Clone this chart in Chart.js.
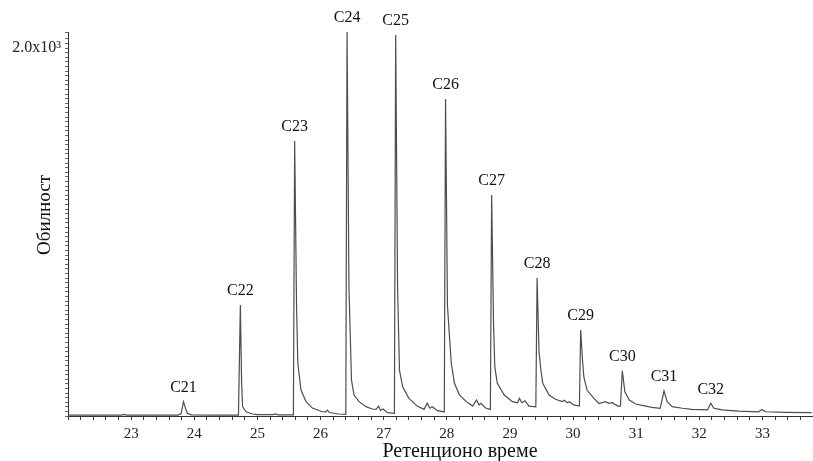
<!DOCTYPE html>
<html>
<head>
<meta charset="utf-8">
<script src="https://cdn.jsdelivr.net/npm/chart.js@4.4.1/dist/chart.umd.min.js"></script>
<style>
    body { margin: 0; background: #fff; }
    #wrap { width: 813px; height: 461px; }
</style>
</head>
<body>
<div id="wrap"><canvas id="chromatogram" width="813" height="461"></canvas></div>
<script>
// retention time (min) and abundance
let retentionTime = [
    22.00, 22.85, 22.89, 22.93, 23.74, 23.79, 23.83, 23.86, 23.89, 23.95,
    24.30, 24.70, 24.73, 24.75, 24.765, 24.82, 24.92, 25.00, 25.25, 25.28,
    25.33, 25.57, 25.59, 25.62, 25.64, 25.69, 25.77, 25.87, 26.03, 26.08,
    26.11, 26.14, 26.29, 26.40, 26.42, 26.45, 26.49, 26.53, 26.61, 26.72,
    26.82, 26.88, 26.92, 26.95, 26.99, 27.06, 27.17, 27.19, 27.22, 27.25,
    27.30, 27.40, 27.53, 27.64, 27.69, 27.73, 27.77, 27.85, 27.96, 27.98,
    28.01, 28.07, 28.12, 28.20, 28.31, 28.41, 28.47, 28.51, 28.54, 28.62,
    28.69, 28.71, 28.74, 28.76, 28.80, 28.91, 29.04, 29.12, 29.15, 29.19,
    29.24, 29.30, 29.41, 29.43, 29.46, 29.49, 29.52, 29.62, 29.72, 29.83,
    29.86, 29.91, 29.94, 30.01, 30.10, 30.12, 30.15, 30.17, 30.22, 30.33,
    30.41, 30.51, 30.57, 30.62, 30.71, 30.75, 30.78, 30.82, 30.89, 30.99,
    31.15, 31.25, 31.38, 31.44, 31.49, 31.57, 31.73, 31.88, 32.13, 32.18,
    32.23, 32.36, 32.62, 32.94, 32.99, 33.05, 33.36, 33.78
]
let abundance = [
    5, 5, 9, 5, 5, 12, 78, 43, 15, 6,
    5, 5, 603, 180, 51, 23, 11, 7, 7, 11,
    6, 6, 1495, 600, 288, 141, 78, 43, 23, 22,
    32, 19, 11, 9, 2087, 700, 196, 114, 78, 51,
    38, 36, 54, 30, 38, 18, 14, 2071, 700, 250,
    159, 96, 54, 36, 70, 42, 50, 29, 22, 1723,
    600, 288, 179, 114, 78, 54, 87, 60, 69, 42,
    36, 1201, 500, 268, 178, 114, 78, 72, 96, 72,
    83, 54, 50, 750, 350, 250, 178, 114, 91, 78,
    85, 72, 78, 60, 54, 467, 300, 214, 141, 96,
    68, 78, 69, 72, 54, 54, 246, 132, 87, 65,
    54, 47, 42, 136, 78, 51, 42, 36, 33, 69,
    42, 33, 27, 23, 36, 23, 20, 18
]

// labelled n-alkane peaks
let peakNames = ['C21', 'C22', 'C23', 'C24', 'C25', 'C26', 'C27', 'C28', 'C29', 'C30', 'C31', 'C32']
let peakTimes = [23.83, 24.73, 25.59, 26.42, 27.19, 27.98, 28.71, 29.43, 30.12, 30.78, 31.44, 32.18]
let peakHeights = [78, 603, 1495, 2087, 2071, 1723, 1201, 750, 467, 246, 136, 69]

let xLabel = 'Ретенционо време'
let yLabel = 'Обилност'

const serif = '"Liberation Serif", "Times New Roman", serif'

let points = []
for (let i = 0; i < retentionTime.length; i++) {
    points.push({x: retentionTime[i], y: abundance[i]})
}

const peakLabels = {
    id: 'peakLabels',
    afterDraw(chart) {
        const ctx = chart.ctx
        const xs = chart.scales.x
        const ys = chart.scales.y
        ctx.save()
        ctx.fillStyle = '#111'
        ctx.textAlign = 'center'
        ctx.textBaseline = 'middle'
        ctx.font = '16px ' + serif
        for (let i = 0; i < peakNames.length; i++) {
            ctx.fillText(peakNames[i], xs.getPixelForValue(peakTimes[i]), ys.getPixelForValue(peakHeights[i]) - 14)
        }
        // axis titles
        ctx.font = '20px ' + serif
        ctx.fillText(xLabel, 460, 452)
        ctx.font = '19px ' + serif
        ctx.translate(45, 215)
        ctx.rotate(-Math.PI / 2)
        ctx.fillText(yLabel, 0, 0)
        ctx.restore()
    }
}

new Chart(document.getElementById('chromatogram'), {
    type: 'line',
    data: {
        datasets: [{
            data: points,
            borderColor: '#4d4d4d',
            borderWidth: 1.2,
            pointRadius: 0,
            tension: 0,
            fill: false
        }]
    },
    options: {
        responsive: false,
        animation: false,
        layout: {padding: {top: 32, right: 0, bottom: 0, left: 0}},
        plugins: {
            legend: {display: false},
            tooltip: {enabled: false}
        },
        scales: {
            x: {
                type: 'linear',
                min: 22,
                max: 33.8,
                afterFit: (scale) => {
                    scale.height = 45
                    scale.paddingLeft = 0
                    scale.paddingRight = 0
                },
                border: {color: '#333', width: 1},
                grid: {drawOnChartArea: false, tickLength: 4, color: '#333'},
                ticks: {
                    stepSize: 0.2,
                    autoSkip: false,
                    maxRotation: 0,
                    padding: 5,
                    color: '#222',
                    font: {family: serif, size: 15},
                    callback: (v) => {
                        let r = Math.round(v)
                        if (Math.abs(v - r) < 1e-6 && r > 22) return String(r)
                        return ''
                    }
                }
            },
            y: {
                min: 0,
                max: 2087,
                afterFit: (scale) => {
                    scale.width = 68
                    scale.paddingTop = 0
                    scale.paddingBottom = 0
                },
                border: {color: '#333', width: 1},
                grid: {drawOnChartArea: false, tickLength: 3, color: '#666'},
                ticks: {
                    stepSize: 25,
                    maxTicksLimit: 200,
                    autoSkip: false,
                    padding: 4,
                    color: '#222',
                    font: {family: serif, size: 16},
                    callback: (v) => v === 2000 ? '2.0x10³' : ''
                }
            }
        }
    },
    plugins: [peakLabels]
})
</script>
</body>
</html>
